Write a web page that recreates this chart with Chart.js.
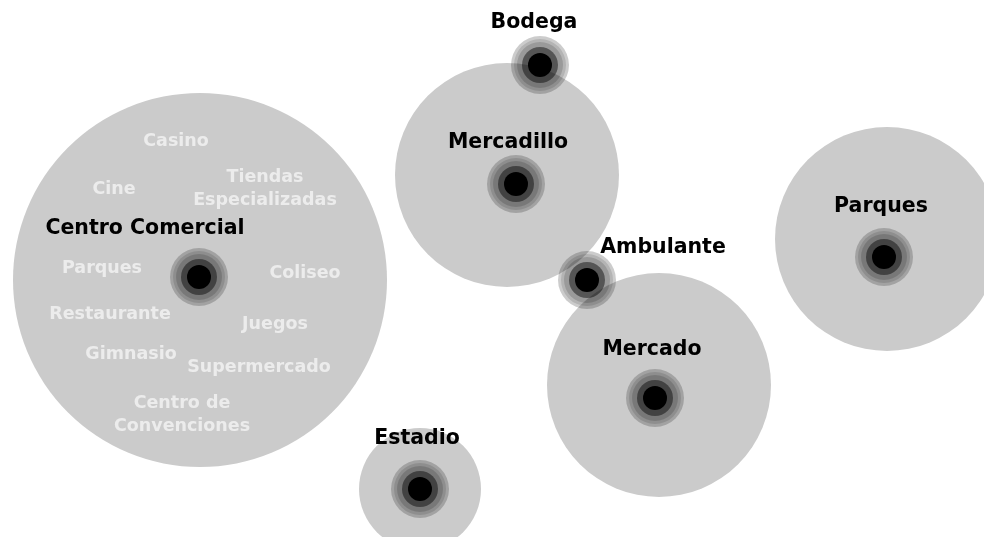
<!DOCTYPE html>
<html>
<head>
<meta charset="utf-8">
<script src="https://cdn.jsdelivr.net/npm/chart.js@4"></script>
<style>
  body { margin: 0; background: #fff; }
  canvas { display: block; }
</style>
</head>
<body>
<canvas id="mapa" width="984" height="537"></canvas>
<script>
// zonas grandes (circulos grises)
const zonas = ['Centro Comercial', 'Mercadillo', 'Mercado', 'Parques', 'Estadio'];
const zonaX = [200, 507, 659, 887, 420];
const zonaY = [280, 175, 385, 239, 489];
const zonaR = [187, 112, 112, 112, 61];

// puntos de venta (centros oscuros)
const puntos = ['Centro Comercial', 'Mercadillo', 'Bodega', 'Ambulante', 'Mercado', 'Parques', 'Estadio'];
const puntoX = [199, 516, 540, 587, 655, 884, 420];
const puntoY = [277, 184, 65, 280, 398, 257, 489];
const etiquetaX = [145, 508, 534, 663, 652, 881, 417];
const etiquetaY = [229, 143, 23, 248, 350, 207, 439];

// servicios dentro del centro comercial
const servicios = [['Casino'], ['Tiendas', 'Especializadas'], ['Cine'], ['Parques'], ['Coliseo'],
  ['Restaurante'], ['Juegos'], ['Gimnasio'], ['Supermercado'], ['Centro de', 'Convenciones']];
const servicioX = [176, 265, 114, 102, 305, 110, 275, 131, 259, 182];
const servicioY = [141, 189, 189, 268, 273, 314, 324, 354, 367, 415];

const anillos = [
  { r: 29, color: 'rgba(0,0,0,0.2)' },
  { r: 26, color: 'rgba(0,0,0,0.12)' },
  { r: 23, color: 'rgba(0,0,0,0.15)' },
  { r: 18, color: 'rgba(0,0,0,0.45)' },
  { r: 12, color: '#000' }
];

const datasets = [{
  label: 'Zonas',
  data: zonas.map((z, i) => ({ x: zonaX[i], y: zonaY[i], r: zonaR[i] })),
  backgroundColor: '#cbcbcb',
  borderWidth: 0,
  clip: false,
  order: 10
}];
anillos.forEach((a, k) => {
  datasets.push({
    label: 'Puntos',
    data: puntos.map((p, i) => ({ x: puntoX[i], y: puntoY[i], r: a.r })),
    backgroundColor: a.color,
    borderWidth: 0,
    clip: false,
    order: anillos.length - k
  });
});

const textos = {
  id: 'textos',
  afterDatasetsDraw(chart) {
    const ctx = chart.ctx;
    const sx = chart.scales.x, sy = chart.scales.y;
    ctx.save();
    ctx.textAlign = 'center';
    ctx.textBaseline = 'middle';

    ctx.fillStyle = '#ececec';
    ctx.font = 'bold 17.5px "DejaVu Sans"';
    servicios.forEach((lineas, i) => {
      const px = sx.getPixelForValue(servicioX[i]);
      const py = sy.getPixelForValue(servicioY[i]);
      lineas.forEach((t, j) => {
        ctx.fillText(t, px, py + (j - (lineas.length - 1) / 2) * 23);
      });
    });

    ctx.fillStyle = '#000';
    ctx.font = 'bold 20.5px "DejaVu Sans"';
    puntos.forEach((p, i) => {
      ctx.fillText(p, sx.getPixelForValue(etiquetaX[i]), sy.getPixelForValue(etiquetaY[i]));
    });
    ctx.restore();
  }
};

new Chart(document.getElementById('mapa'), {
  type: 'bubble',
  data: { datasets },
  options: {
    responsive: false,
    animation: false,
    events: [],
    layout: { padding: 0, autoPadding: false },
    plugins: { legend: { display: false }, tooltip: { enabled: false } },
    scales: {
      x: { type: 'linear', min: 0, max: 984, display: false },
      y: { type: 'linear', min: 0, max: 537, reverse: true, display: false }
    }
  },
  plugins: [textos]
});
</script>
</body>
</html>
